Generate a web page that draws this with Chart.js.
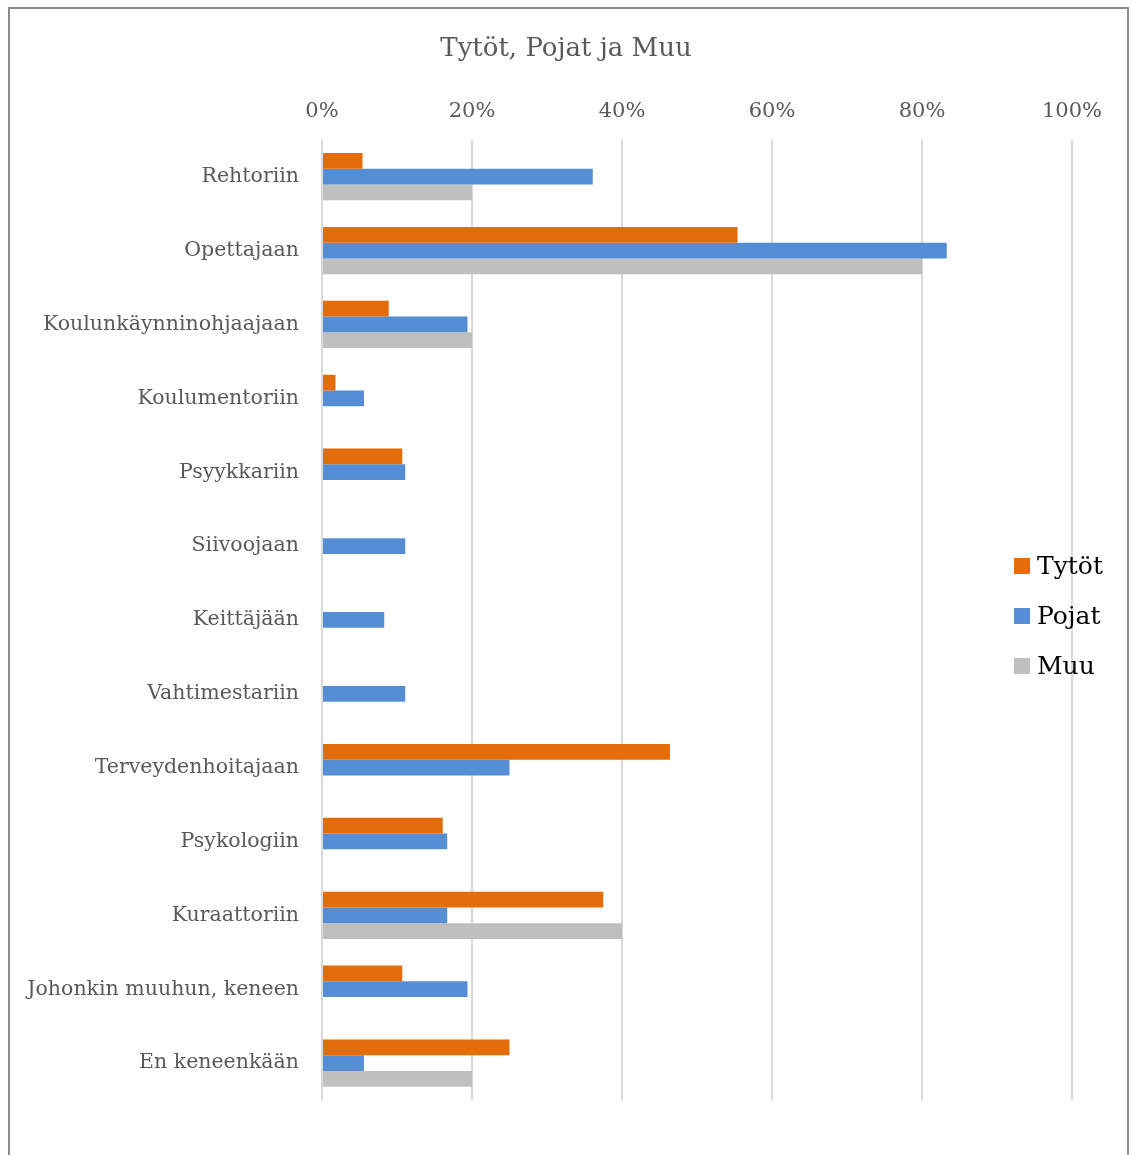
<!DOCTYPE html>
<html>
<head>
<meta charset="utf-8">
<script src="https://cdn.jsdelivr.net/npm/chart.js@4"></script>
<style>
  html, body { margin: 0; padding: 0; background: #fff; }
  #wrap { position: absolute; left: 0; top: 0; width: 1132px; height: 1155px; }
  #frame { position: absolute; left: 8px; top: 7px; width: 1121px; height: 1160px; border: 2px solid #8c8c8c; box-sizing: border-box; pointer-events: none; }
</style>
</head>
<body>
<div id="wrap"><canvas id="c" width="1132" height="1155"></canvas></div>
<div id="frame"></div>
<script>
const categories = ["Rehtoriin", "Opettajaan", "Koulunkäynninohjaajaan", "Koulumentoriin", "Psyykkariin", "Siivoojaan", "Keittäjään", "Vahtimestariin", "Terveydenhoitajaan", "Psykologiin", "Kuraattoriin", "Johonkin muuhun, keneen", "En keneenkään"];
const tytot = [5.4, 55.4, 8.9, 1.8, 10.7, 0, 0, 0, 46.4, 16.1, 37.5, 10.7, 25.0];
const pojat = [36.1, 83.3, 19.4, 5.6, 11.1, 11.1, 8.3, 11.1, 25.0, 16.7, 16.7, 19.4, 5.6];
const muu = [20, 80, 20, 0, 0, 0, 0, 0, 0, 0, 40, 0, 20];
const seriesNames = ["Tytöt", "Pojat", "Muu"];
const seriesColors = ["#e46c0a", "#558ed5", "#bfbfbf"];
const titleText = "Tytöt, Pojat ja Muu";

const serif = "'DejaVu Serif', 'Liberation Serif', serif";

const customLegend = {
  id: 'customLegend',
  afterDraw(chart) {
    const ctx = chart.ctx;
    ctx.save();
    ctx.font = "25px " + serif;
    ctx.textBaseline = 'middle';
    ctx.textAlign = 'left';
    chart.data.datasets.forEach((ds, i) => {
      const y = 566 + i * 50;
      ctx.fillStyle = ds.backgroundColor;
      ctx.fillRect(1014, y - 8, 16, 16);
      ctx.fillStyle = '#000';
      ctx.fillText(ds.label, 1037, y + 1);
    });
    ctx.restore();
  }
};

new Chart(document.getElementById('c'), {
  type: 'bar',
  data: {
    labels: categories,
    datasets: [
      { label: seriesNames[0], data: tytot, backgroundColor: seriesColors[0] },
      { label: seriesNames[1], data: pojat, backgroundColor: seriesColors[1] },
      { label: seriesNames[2], data: muu, backgroundColor: seriesColors[2] }
    ]
  },
  options: {
    indexAxis: 'y',
    responsive: false,
    animation: false,
    categoryPercentage: 0.64,
    barPercentage: 1.0,
    layout: { padding: { left: 0, right: 0, top: 0, bottom: 55 } },
    plugins: {
      legend: { display: false },
      tooltip: { enabled: false },
      title: {
        display: true,
        text: titleText,
        color: '#595959',
        font: { family: serif, size: 26, weight: 'normal', lineHeight: 1.2 },
        padding: { top: 34, bottom: 0 }
      }
    },
    scales: {
      x: {
        position: 'top',
        min: 0, max: 100,
        ticks: {
          stepSize: 20,
          color: '#595959',
          padding: 16,
          font: { family: serif, size: 21 },
          callback: v => v + '%'
        },
        grid: { color: '#d9d9d9', lineWidth: 2, drawTicks: false },
        border: { display: false },
        afterFit: s => { s.height = 74.6; }
      },
      y: {
        ticks: {
          color: '#595959',
          padding: 23,
          font: { family: serif, size: 20.5 }
        },
        grid: { display: false, drawTicks: false },
        border: { display: false },
        afterFit: s => { s.width = 322; }
      },
      yRight: {
        type: 'linear',
        position: 'right',
        display: true,
        ticks: { display: false },
        grid: { display: false, drawTicks: false },
        border: { display: false },
        afterFit: s => { s.width = 60; }
      }
    }
  },
  plugins: [customLegend]
});
</script>
</body>
</html>
